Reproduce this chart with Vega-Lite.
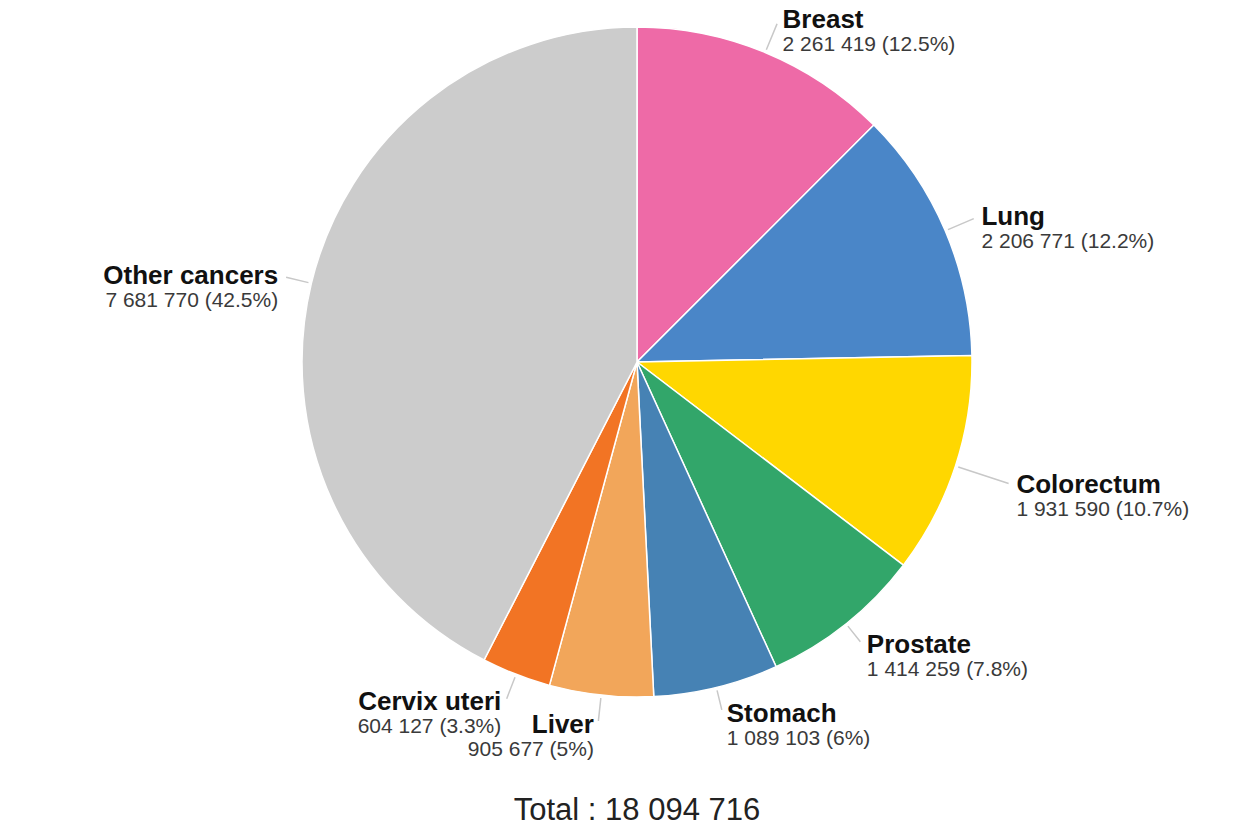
{
  "$schema": "https://vega.github.io/schema/vega-lite/v6.json",
  "width": 1226,
  "height": 724,
  "padding": {"left": 24, "top": 0, "right": 0, "bottom": 106},
  "autosize": {"type": "none"},
  "background": "white",
  "config": {"view": {"stroke": null}, "font": "Liberation Sans"},
  "title": {
    "text": "Total : 18 094 716",
    "orient": "bottom",
    "offset": 6,
    "fontSize": 31,
    "font": "Liberation Sans",
    "fontWeight": "normal",
    "color": "#222222"
  },
  "data": {
    "values": [
      {"rank": 1, "cancer": "Breast", "value": 2261419, "detail": "2 261 419 (12.5%)"},
      {"rank": 2, "cancer": "Lung", "value": 2206771, "detail": "2 206 771 (12.2%)"},
      {"rank": 3, "cancer": "Colorectum", "value": 1931590, "detail": "1 931 590 (10.7%)"},
      {"rank": 4, "cancer": "Prostate", "value": 1414259, "detail": "1 414 259 (7.8%)"},
      {"rank": 5, "cancer": "Stomach", "value": 1089103, "detail": "1 089 103 (6%)"},
      {"rank": 6, "cancer": "Liver", "value": 905677, "detail": "905 677 (5%)"},
      {"rank": 7, "cancer": "Cervix uteri", "value": 604127, "detail": "604 127 (3.3%)"},
      {"rank": 8, "cancer": "Other cancers", "value": 7681770, "detail": "7 681 770 (42.5%)"}
    ]
  },
  "encoding": {
    "theta": {"field": "value", "type": "quantitative", "stack": true},
    "order": {"field": "rank", "type": "quantitative"}
  },
  "layer": [
    {
      "mark": {"type": "arc", "radius": 335, "stroke": "white", "strokeWidth": 1.5},
      "encoding": {
        "color": {
          "field": "cancer",
          "type": "nominal",
          "scale": {
            "domain": ["Breast", "Lung", "Colorectum", "Prostate", "Stomach", "Liver", "Cervix uteri", "Other cancers"],
            "range": ["#EE6AA7", "#4A86C8", "#FFD700", "#32A66A", "#4682B4", "#F2A65A", "#F27424", "#CCCCCC"]
          },
          "legend": null
        }
      }
    },
    {
      "mark": {"type": "arc", "radius": 366, "radius2": 338, "padAngle": 3, "filled": false, "stroke": "#c8c8c8", "strokeWidth": 1.5},
      "encoding": {"strokeOpacity": {"condition": {"test": "datum.cancer == 'Breast' || datum.cancer == 'Lung'", "value": 1}, "value": 0}}
    },
    {
      "mark": {"type": "text", "radius": 370, "align": "left", "baseline": "middle", "dx": 4, "fontSize": 26, "fontWeight": "bold", "color": "#111111"},
      "encoding": {"text": {"condition": {"test": "datum.cancer == 'Breast' || datum.cancer == 'Lung'", "field": "cancer"}, "value": ""}}
    },
    {
      "mark": {"type": "text", "radius": 370, "align": "left", "baseline": "top", "dx": 4, "dy": 14, "fontSize": 21, "fontWeight": "normal", "color": "#3a3a3a"},
      "encoding": {"text": {"condition": {"test": "datum.cancer == 'Breast' || datum.cancer == 'Lung'", "field": "detail"}, "value": ""}}
    },
    {
      "mark": {"type": "arc", "radius": 391, "radius2": 338, "padAngle": 3, "filled": false, "stroke": "#c8c8c8", "strokeWidth": 1.5},
      "encoding": {"strokeOpacity": {"condition": {"test": "datum.cancer == 'Colorectum'", "value": 1}, "value": 0}}
    },
    {
      "mark": {"type": "text", "radius": 395, "align": "left", "baseline": "middle", "dx": 4, "fontSize": 26, "fontWeight": "bold", "color": "#111111"},
      "encoding": {"text": {"condition": {"test": "datum.cancer == 'Colorectum'", "field": "cancer"}, "value": ""}}
    },
    {
      "mark": {"type": "text", "radius": 395, "align": "left", "baseline": "top", "dx": 4, "dy": 14, "fontSize": 21, "fontWeight": "normal", "color": "#3a3a3a"},
      "encoding": {"text": {"condition": {"test": "datum.cancer == 'Colorectum'", "field": "detail"}, "value": ""}}
    },
    {
      "mark": {"type": "arc", "radius": 358, "radius2": 338, "padAngle": 3, "filled": false, "stroke": "#c8c8c8", "strokeWidth": 1.5},
      "encoding": {"strokeOpacity": {"condition": {"test": "datum.cancer == 'Prostate' || datum.cancer == 'Stomach'", "value": 1}, "value": 0}}
    },
    {
      "mark": {"type": "text", "radius": 362, "align": "left", "baseline": "middle", "dx": 4, "fontSize": 26, "fontWeight": "bold", "color": "#111111"},
      "encoding": {"text": {"condition": {"test": "datum.cancer == 'Prostate' || datum.cancer == 'Stomach'", "field": "cancer"}, "value": ""}}
    },
    {
      "mark": {"type": "text", "radius": 362, "align": "left", "baseline": "top", "dx": 4, "dy": 14, "fontSize": 21, "fontWeight": "normal", "color": "#3a3a3a"},
      "encoding": {"text": {"condition": {"test": "datum.cancer == 'Prostate' || datum.cancer == 'Stomach'", "field": "detail"}, "value": ""}}
    },
    {
      "mark": {"type": "arc", "radius": 361, "radius2": 338, "padAngle": 3, "filled": false, "stroke": "#c8c8c8", "strokeWidth": 1.5},
      "encoding": {"strokeOpacity": {"condition": {"test": "indexof(['Other cancers','Cervix uteri','Liver'], datum.cancer) >= 0", "value": 1}, "value": 0}}
    },
    {
      "mark": {"type": "text", "radius": 365, "align": "right", "baseline": "middle", "dx": -4, "fontSize": 26, "fontWeight": "bold", "color": "#111111"},
      "encoding": {"text": {"condition": {"test": "indexof(['Other cancers','Cervix uteri','Liver'], datum.cancer) >= 0", "field": "cancer"}, "value": ""}}
    },
    {
      "mark": {"type": "text", "radius": 365, "align": "right", "baseline": "top", "dx": -4, "dy": 14, "fontSize": 21, "fontWeight": "normal", "color": "#3a3a3a"},
      "encoding": {"text": {"condition": {"test": "indexof(['Other cancers','Cervix uteri','Liver'], datum.cancer) >= 0", "field": "detail"}, "value": ""}}
    }
  ]
}
